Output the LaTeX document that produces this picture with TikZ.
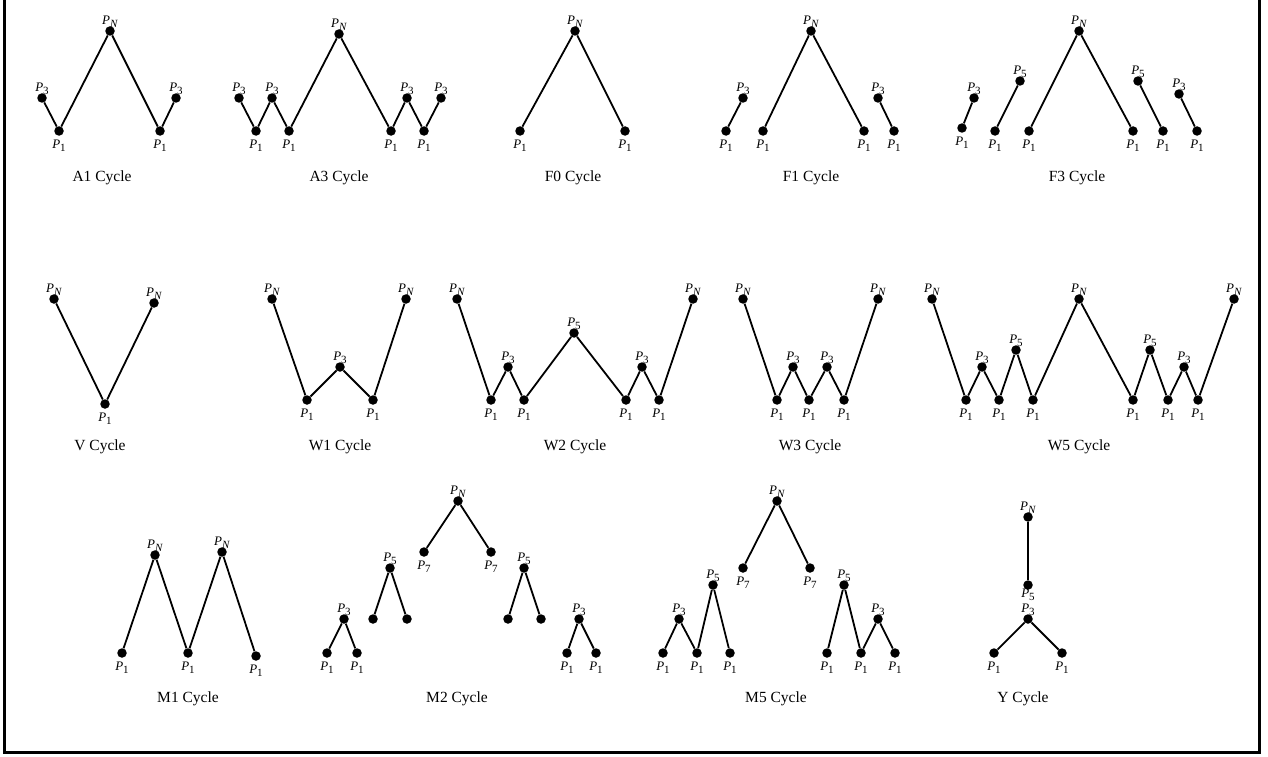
\documentclass[tikz,border=0pt]{standalone}
\usepackage{fontspec}
\setmainfont{Liberation Serif}
\usetikzlibrary{positioning}
\newcommand{\Pk}[1]{\textit{P}\raisebox{-3.5pt}{\fontsize{11}{11}\selectfont #1}}
\newcommand{\PN}{\Pk{\textit{N}}}
\tikzset{
  ponto/.style={circle, fill=black, inner sep=0pt, minimum size=9.5pt},
  aresta/.style={line width=1.8pt},
  rotulo/.style={font=\fontsize{13}{14}\selectfont, inner sep=0pt},
  cima/.style={label={[rotulo, yshift=-2pt]above:#1}},
  baixo/.style={label={[rotulo, yshift=-3.5pt]below:#1}},
  legenda/.style={font=\fontsize{15.5}{18}\selectfont},
}
\begin{document}
\begin{tikzpicture}[
    x=1pt,
    y=-1pt,
    moldura/.style={
        line width=3pt,
        line cap=rect
    }
]
\useasboundingbox (0,0) rectangle (1268,757);

% Moldura
\draw[moldura] (4,-10) -- (4,752) -- (1259,752) -- (1259,-10);

% =================================================
% LINHA 1 - CICLOS A e F
% =================================================

% A1
\node[ponto, cima=\Pk{3}] (a1a) at (42,98) {};
\node[ponto, baixo=\Pk{1}] (a1b) at (59,131) {};
\node[ponto, cima=\PN] (a1c) at (110,31) {};
\node[ponto, baixo=\Pk{1}] (a1d) at (160,131) {};
\node[ponto, cima=\Pk{3}] (a1e) at (176,98) {};
\draw[aresta] (a1a) -- (a1b) -- (a1c) -- (a1d) -- (a1e);
\node[legenda] (a1t) at (102,178) {A1 Cycle};

% A3
\node[ponto, cima=\Pk{3}] (a3a) at (239,98) {};
\node[ponto, baixo=\Pk{1}] (a3b) at (256,131) {};
\node[ponto, cima=\Pk{3}] (a3c) at (272,98) {};
\node[ponto, baixo=\Pk{1}] (a3d) at (289,131) {};
\node[ponto, cima=\PN] (a3e) at (339,34) {};
\node[ponto, baixo=\Pk{1}] (a3f) at (391,131) {};
\node[ponto, cima=\Pk{3}] (a3g) at (407,98) {};
\node[ponto, baixo=\Pk{1}] (a3h) at (424,131) {};
\node[ponto, cima=\Pk{3}] (a3i) at (441,98) {};
\draw[aresta] (a3a) -- (a3b) -- (a3c) -- (a3d) -- (a3e) -- (a3f) -- (a3g) -- (a3h) -- (a3i);
\node[legenda] (a3t) at (339,178) {A3 Cycle};

% F0
\node[ponto, baixo=\Pk{1}] (f0a) at (520,131) {};
\node[ponto, cima=\PN] (f0b) at (575,31) {};
\node[ponto, baixo=\Pk{1}] (f0c) at (625,131) {};
\draw[aresta] (f0a) -- (f0b) -- (f0c);
\node[legenda] (f0t) at (573,178) {F0 Cycle};

% F1
\node[ponto, baixo=\Pk{1}] (f1a) at (726,131) {};
\node[ponto, cima=\Pk{3}] (f1b) at (743,98) {};
\node[ponto, baixo=\Pk{1}] (f1c) at (763,131) {};
\node[ponto, cima=\PN] (f1d) at (811,31) {};
\node[ponto, baixo=\Pk{1}] (f1e) at (864,131) {};
\node[ponto, cima=\Pk{3}] (f1f) at (878,98) {};
\node[ponto, baixo=\Pk{1}] (f1g) at (894,131) {};
\draw[aresta] (f1a) -- (f1b);
\draw[aresta] (f1c) -- (f1d) -- (f1e);
\draw[aresta] (f1f) -- (f1g);
\node[legenda] (f1t) at (811,178) {F1 Cycle};

% F3
\node[ponto, baixo=\Pk{1}] (f3a) at (962,128) {};
\node[ponto, cima=\Pk{3}] (f3b) at (974,98) {};
\node[ponto, baixo=\Pk{1}] (f3c) at (995,131) {};
\node[ponto, cima=\Pk{5}] (f3d) at (1020,81) {};
\node[ponto, baixo=\Pk{1}] (f3e) at (1029,131) {};
\node[ponto, cima=\PN] (f3f) at (1079,31) {};
\node[ponto, baixo=\Pk{1}] (f3g) at (1133,131) {};
\node[ponto, cima=\Pk{5}] (f3h) at (1138,81) {};
\node[ponto, baixo=\Pk{1}] (f3i) at (1163,131) {};
\node[ponto, cima=\Pk{3}] (f3j) at (1179,94) {};
\node[ponto, baixo=\Pk{1}] (f3k) at (1197,131) {};
\draw[aresta] (f3a) -- (f3b);
\draw[aresta] (f3c) -- (f3d);
\draw[aresta] (f3e) -- (f3f) -- (f3g);
\draw[aresta] (f3h) -- (f3i);
\draw[aresta] (f3j) -- (f3k);
\node[legenda] (f3t) at (1077,178) {F3 Cycle};


% =================================================
% LINHA 2 - CICLOS V e W
% =================================================

% V
\node[ponto, cima=\PN] (va) at (54,299) {};
\node[ponto, baixo=\Pk{1}] (vb) at (105,404) {};
\node[ponto, cima=\PN] (vc) at (154,303) {};
\draw[aresta] (va) -- (vb) -- (vc);
\node[legenda] (vt) at (100,447) {V Cycle};

% W1
\node[ponto, cima=\PN] (w1a) at (272,299) {};
\node[ponto, baixo=\Pk{1}] (w1b) at (307,400) {};
\node[ponto, cima=\Pk{3}] (w1c) at (340,367) {};
\node[ponto, baixo=\Pk{1}] (w1d) at (373,400) {};
\node[ponto, cima=\PN] (w1e) at (406,299) {};
\draw[aresta] (w1a) -- (w1b) -- (w1c) -- (w1d) -- (w1e);
\node[legenda] (w1t) at (340,447) {W1 Cycle};

% W2
\node[ponto, cima=\PN] (w2a) at (457,299) {};
\node[ponto, baixo=\Pk{1}] (w2b) at (491,400) {};
\node[ponto, cima=\Pk{3}] (w2c) at (508,367) {};
\node[ponto, baixo=\Pk{1}] (w2d) at (524,400) {};
\node[ponto, cima=\Pk{5}] (w2e) at (574,333) {};
\node[ponto, baixo=\Pk{1}] (w2f) at (626,400) {};
\node[ponto, cima=\Pk{3}] (w2g) at (642,367) {};
\node[ponto, baixo=\Pk{1}] (w2h) at (659,400) {};
\node[ponto, cima=\PN] (w2i) at (693,299) {};
\draw[aresta] (w2a) -- (w2b) -- (w2c) -- (w2d) -- (w2e) -- (w2f) -- (w2g) -- (w2h) -- (w2i);
\node[legenda] (w2t) at (575,447) {W2 Cycle};

% W3
\node[ponto, cima=\PN] (w3a) at (743,299) {};
\node[ponto, baixo=\Pk{1}] (w3b) at (777,400) {};
\node[ponto, cima=\Pk{3}] (w3c) at (793,367) {};
\node[ponto, baixo=\Pk{1}] (w3d) at (809,400) {};
\node[ponto, cima=\Pk{3}] (w3e) at (827,367) {};
\node[ponto, baixo=\Pk{1}] (w3f) at (844,400) {};
\node[ponto, cima=\PN] (w3g) at (878,299) {};
\draw[aresta] (w3a) -- (w3b) -- (w3c) -- (w3d) -- (w3e) -- (w3f) -- (w3g);
\node[legenda] (w3t) at (810,447) {W3 Cycle};

% W5
\node[ponto, cima=\PN] (w5a) at (932,299) {};
\node[ponto, baixo=\Pk{1}] (w5b) at (966,400) {};
\node[ponto, cima=\Pk{3}] (w5c) at (982,367) {};
\node[ponto, baixo=\Pk{1}] (w5d) at (999,400) {};
\node[ponto, cima=\Pk{5}] (w5e) at (1016,350) {};
\node[ponto, baixo=\Pk{1}] (w5f) at (1033,400) {};
\node[ponto, cima=\PN] (w5g) at (1079,299) {};
\node[ponto, baixo=\Pk{1}] (w5h) at (1133,400) {};
\node[ponto, cima=\Pk{5}] (w5i) at (1150,350) {};
\node[ponto, baixo=\Pk{1}] (w5j) at (1168,400) {};
\node[ponto, cima=\Pk{3}] (w5k) at (1184,367) {};
\node[ponto, baixo=\Pk{1}] (w5l) at (1198,400) {};
\node[ponto, cima=\PN] (w5m) at (1234,299) {};
\draw[aresta] (w5a) -- (w5b) -- (w5c) -- (w5d) -- (w5e) -- (w5f) -- (w5g)
    -- (w5h) -- (w5i) -- (w5j) -- (w5k) -- (w5l) -- (w5m);
\node[legenda] (w5t) at (1079,447) {W5 Cycle};


% =================================================
% LINHA 3 - CICLOS M e Y
% =================================================

% M1
\node[ponto, baixo=\Pk{1}] (m1a) at (122,653) {};
\node[ponto, cima=\PN] (m1b) at (155,555) {};
\node[ponto, baixo=\Pk{1}] (m1c) at (188,653) {};
\node[ponto, cima=\PN] (m1d) at (222,552) {};
\node[ponto, baixo=\Pk{1}] (m1e) at (256,656) {};
\draw[aresta] (m1a) -- (m1b) -- (m1c) -- (m1d) -- (m1e);
\node[legenda] (m1t) at (188,699) {M1 Cycle};

% M2
\node[ponto, baixo=\Pk{1}] (m2a) at (327,653) {};
\node[ponto, cima=\Pk{3}] (m2b) at (344,619) {};
\node[ponto, baixo=\Pk{1}] (m2c) at (357,653) {};
\node[ponto] (m2d) at (373,619) {};
\node[ponto, cima=\Pk{5}] (m2e) at (390,568) {};
\node[ponto] (m2f) at (407,619) {};
\node[ponto, baixo=\Pk{7}] (m2g) at (424,552) {};
\node[ponto, cima=\PN] (m2h) at (458,501) {};
\node[ponto, baixo=\Pk{7}] (m2i) at (491,552) {};
\node[ponto] (m2j) at (508,619) {};
\node[ponto, cima=\Pk{5}] (m2k) at (524,568) {};
\node[ponto] (m2l) at (541,619) {};
\node[ponto, baixo=\Pk{1}] (m2m) at (567,653) {};
\node[ponto, cima=\Pk{3}] (m2n) at (579,619) {};
\node[ponto, baixo=\Pk{1}] (m2o) at (596,653) {};
\draw[aresta] (m2a) -- (m2b) -- (m2c);
\draw[aresta] (m2d) -- (m2e) -- (m2f);
\draw[aresta] (m2g) -- (m2h) -- (m2i);
\draw[aresta] (m2j) -- (m2k) -- (m2l);
\draw[aresta] (m2m) -- (m2n) -- (m2o);
\node[legenda] (m2t) at (457,699) {M2 Cycle};

% M5
\node[ponto, baixo=\Pk{1}] (m5a) at (663,653) {};
\node[ponto, cima=\Pk{3}] (m5b) at (679,619) {};
\node[ponto, baixo=\Pk{1}] (m5c) at (697,653) {};
\node[ponto, cima=\Pk{5}] (m5d) at (713,585) {};
\node[ponto, baixo=\Pk{1}] (m5e) at (730,653) {};
\node[ponto, baixo=\Pk{7}] (m5f) at (743,568) {};
\node[ponto, cima=\PN] (m5g) at (777,501) {};
\node[ponto, baixo=\Pk{7}] (m5h) at (810,568) {};
\node[ponto, baixo=\Pk{1}] (m5i) at (827,653) {};
\node[ponto, cima=\Pk{5}] (m5j) at (844,585) {};
\node[ponto, baixo=\Pk{1}] (m5k) at (861,653) {};
\node[ponto, cima=\Pk{3}] (m5l) at (878,619) {};
\node[ponto, baixo=\Pk{1}] (m5m) at (895,653) {};
\draw[aresta] (m5a) -- (m5b) -- (m5c) -- (m5d) -- (m5e);
\draw[aresta] (m5f) -- (m5g) -- (m5h);
\draw[aresta] (m5i) -- (m5j) -- (m5k) -- (m5l) -- (m5m);
\node[legenda] (m5t) at (776,699) {M5 Cycle};

% Y
\node[ponto, cima=\PN] (ya) at (1028,517) {};
\node[ponto, label={[rotulo, yshift=1.5pt]below:\Pk{5}}] (yb) at (1028,585) {};
\node[ponto, cima=\Pk{3}] (yc) at (1028,619) {};
\node[ponto, baixo=\Pk{1}] (yd) at (994,653) {};
\node[ponto, baixo=\Pk{1}] (ye) at (1062,653) {};
\draw[aresta] (ya) -- (yb);
\draw[aresta] (yd) -- (yc) -- (ye);
\node[legenda] (yt) at (1023,699) {Y Cycle};

\end{tikzpicture}
\end{document}
